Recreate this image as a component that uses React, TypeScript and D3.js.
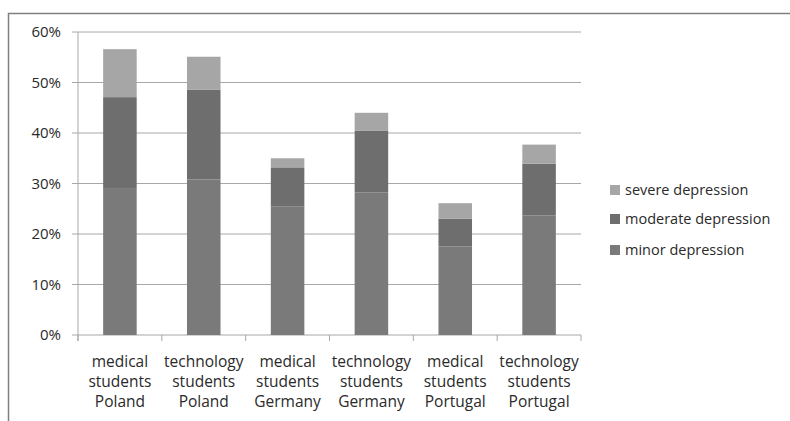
import React from 'react';
import * as d3 from 'd3';

const categories = [
  ['medical', 'students', 'Poland'],
  ['technology', 'students', 'Poland'],
  ['medical', 'students', 'Germany'],
  ['technology', 'students', 'Germany'],
  ['medical', 'students', 'Portugal'],
  ['technology', 'students', 'Portugal'],
];
const seriesNames = ['minor depression', 'moderate depression', 'severe depression'];
const minor = [29.1, 30.8, 25.5, 28.2, 17.5, 23.7];
const moderate = [18.0, 17.8, 7.7, 12.3, 5.5, 10.2];
const severe = [9.5, 6.5, 1.8, 3.5, 3.1, 3.8];
const yTicks = [0, 10, 20, 30, 40, 50, 60];
const colors = ['#7a7a7a', '#6e6e6e', '#a6a6a6'];

const W = 790;
const H = 421;
const font = "'Open Sans', sans-serif";

export default function App() {
  const x = d3.scaleBand<number>()
    .domain(d3.range(categories.length))
    .range([78, 581])
    .paddingInner(0.6)
    .paddingOuter(0.3);
  const band = d3.scaleBand<number>().domain(d3.range(categories.length)).range([78, 581]);
  const y = d3.scaleLinear().domain([0, 60]).range([335, 32]);

  const rows = categories.map((c, i) => ({ i, minor: minor[i], moderate: moderate[i], severe: severe[i] }));
  const stack = d3.stack<any>().keys(['minor', 'moderate', 'severe'])(rows);

  const legendY = [250, 219, 190];

  return (
    <svg width={W} height={H} style={{ position: 'absolute', left: 0, top: 0, background: '#fff' }} fontFamily={font}>
      {/* outer frame */}
      <path d={`M8.5,${H} V13.5 H${W}`} fill="none" stroke="#7f7f7f" strokeWidth={1.5} />

      {/* gridlines */}
      {yTicks.map(t => (
        <g key={t}>
          <line x1={72} x2={581} y1={y(t)} y2={y(t)} stroke="#a8a8a8" strokeWidth={1} />
          <text x={61} y={y(t)} dy="0.35em" textAnchor="end" fontSize={15} fill="#2a2a2a">{t}%</text>
        </g>
      ))}
      <line x1={78} x2={78} y1={y(60)} y2={y(0) + 6} stroke="#a8a8a8" />
      {d3.range(categories.length + 1).map(k => {
        const xx = k < categories.length ? band(k)! : 581;
        return <line key={k} x1={xx} x2={xx} y1={y(0)} y2={y(0) + 6} stroke="#a8a8a8" />;
      })}

      {/* bars */}
      {stack.map((s, si) => (
        <g key={si} fill={colors[si]}>
          {s.map((d, i) => (
            <rect key={i} x={x(i)} width={x.bandwidth()} y={y(d[1])} height={y(d[0]) - y(d[1])} />
          ))}
        </g>
      ))}

      {/* category labels */}
      {categories.map((c, i) => (
        <text key={i} textAnchor="middle" fontSize={15.5} fill="#2a2a2a">
          {c.map((line, li) => (
            <tspan key={li} x={band(i)! + band.bandwidth() / 2} y={362 + li * 20} dy="0.35em">{line}</tspan>
          ))}
        </text>
      ))}

      {/* legend */}
      {seriesNames.map((n, si) => (
        <g key={n}>
          <rect x={610} y={legendY[si] - 5} width={10} height={10} fill={colors[si]} />
          <text x={625} y={legendY[si]} dy="0.35em" fontSize={14.5} fill="#2a2a2a">{n}</text>
        </g>
      ))}
    </svg>
  );
}
